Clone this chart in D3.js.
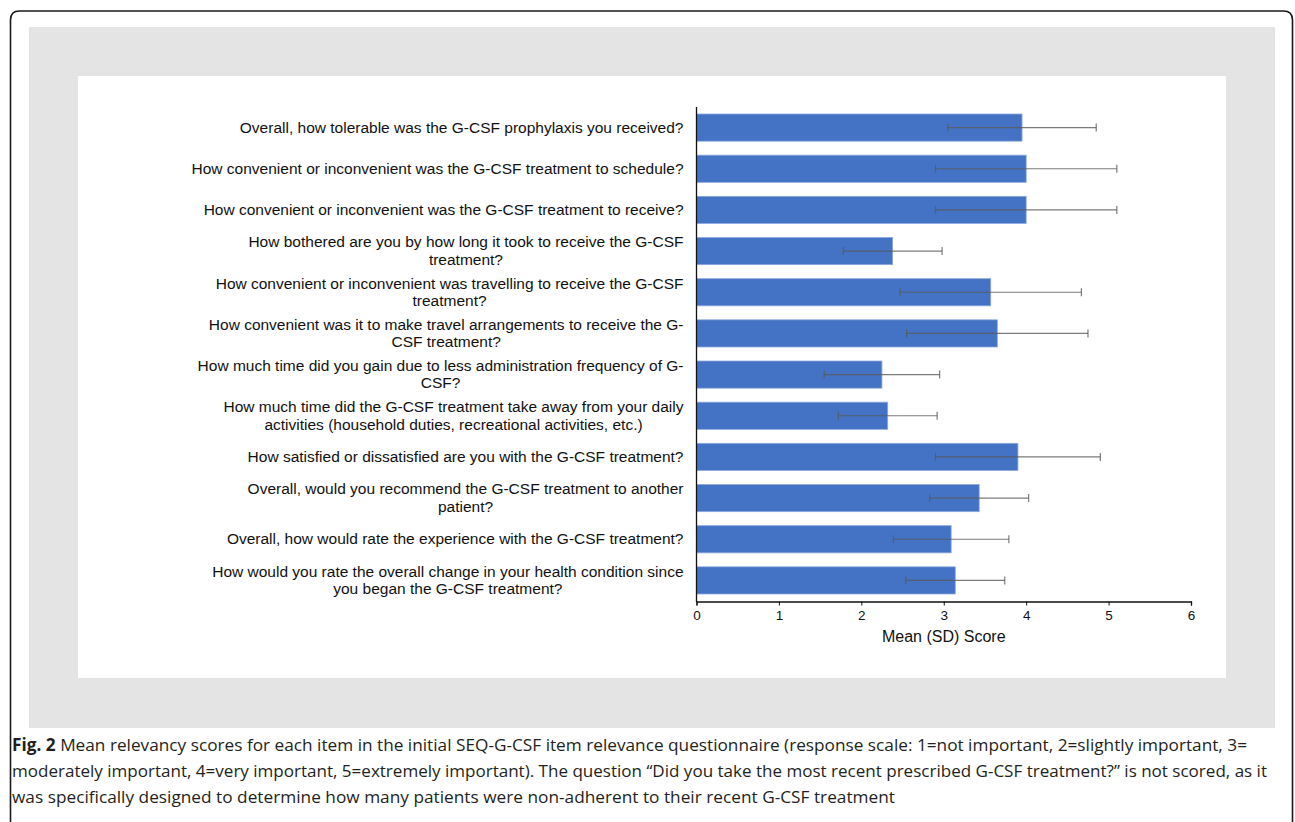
<!doctype html>
<html lang="en">
<head>
  <meta charset="utf-8">
  <title>Fig. 2</title>
  <style>
    body { margin: 0; background: #fff; }
    svg { display: block; }
    .lbl { font-family: "Liberation Sans", Arial, sans-serif; font-size: 15.5px; fill: #111; }
    .tick text { font-family: "Liberation Sans", Arial, sans-serif; font-size: 13.5px; fill: #111; }
    .cap { font-family: "Liberation Sans Narrow", "Open Sans", sans-serif; font-size: 17px; fill: #231f20; }
  </style>
</head>
<body>
  <div id="fig"></div>
  <script src="https://cdn.jsdelivr.net/npm/d3@7"></script>
  <script>
(function() {

  // items, top to bottom
  var items = [
    ["Overall, how tolerable was the G-CSF prophylaxis you received?"],
    ["How convenient or inconvenient was the G-CSF treatment to schedule?"],
    ["How convenient or inconvenient was the G-CSF treatment to receive?"],
    ["How bothered are you by how long it took to receive the G-CSF", "treatment?"],
    ["How convenient or inconvenient was travelling to receive the G-CSF", "treatment?"],
    ["How convenient was it to make travel arrangements to receive the G-", "CSF treatment?"],
    ["How much time did you gain due to less administration frequency of G-", "CSF?"],
    ["How much time did the G-CSF treatment take away from your daily", "activities (household duties, recreational activities, etc.)"],
    ["How satisfied or dissatisfied are you with the G-CSF treatment?"],
    ["Overall, would you recommend the G-CSF treatment to another", "patient?"],
    ["Overall, how would rate the experience with the G-CSF treatment?"],
    ["How would you rate the overall change in your health condition since", "you began the G-CSF treatment?"]
  ];
  var means = [3.95, 4.0, 4.0, 2.38, 3.57, 3.65, 2.25, 2.32, 3.90, 3.43, 3.09, 3.14];
  var sds   = [0.90, 1.10, 1.10, 0.60, 1.10, 1.10, 0.70, 0.60, 1.00, 0.60, 0.70, 0.60];
  var xTicks = [0, 1, 2, 3, 4, 5, 6];
  var xTitle = "Mean (SD) Score";
  var caption = [
    ["Fig. 2", " Mean relevancy scores for each item in the initial SEQ-G-CSF item relevance questionnaire (response scale: 1=not important, 2=slightly important, 3="],
    ["", "moderately important, 4=very important, 5=extremely important). The question \u201cDid you take the most recent prescribed G-CSF treatment?\u201d is not scored, as it"],
    ["", "was specifically designed to determine how many patients were non-adherent to their recent G-CSF treatment"]
  ];
  var captionWidths = [1235, 1255, 883];

  var width = 1295, height = 822;

  var svg = d3.select("#fig").append("svg")
      .attr("width", width)
      .attr("height", height);

  // frame with rounded top corners
  var r = 9;
  svg.append("path")
      .attr("d", "M10.5," + height + " V" + (11 + r) + " Q10.5,11 " + (10.5 + r) + ",11 H" + (1292.5 - r) +
                 " Q1292.5,11 1292.5," + (11 + r) + " V" + height)
      .attr("fill", "none")
      .attr("stroke", "#1a1a1a")
      .attr("stroke-width", 1.6);

  svg.append("rect").attr("x", 29).attr("y", 27).attr("width", 1246).attr("height", 701).attr("fill", "#e4e4e4");
  svg.append("rect").attr("x", 78).attr("y", 76).attr("width", 1148).attr("height", 602).attr("fill", "#fff");

  var x = d3.scaleLinear().domain([0, 6]).range([696.5, 1191]);
  var y = d3.scaleBand().domain(d3.range(items.length)).range([107, 601]).paddingInner(0.34).paddingOuter(0.17);

  var g = svg.append("g");

  g.selectAll("rect.bar")
    .data(means)
    .enter().append("rect")
      .attr("class", "bar")
      .attr("x", x(0))
      .attr("y", function(d, i) { return y(i); })
      .attr("width", function(d) { return x(d) - x(0); })
      .attr("height", y.bandwidth())
      .attr("fill", "#4472c4")
      .attr("stroke", "#8eaadf")
      .attr("stroke-width", 0.8);

  // error bars
  var eb = g.selectAll("g.err")
    .data(means)
    .enter().append("g")
      .attr("class", "err")
      .attr("stroke", "#5a5a5a")
      .attr("stroke-opacity", 0.8)
      .attr("stroke-width", 1.2)
      .attr("transform", function(d, i) { return "translate(0," + (y(i) + y.bandwidth() / 2) + ")"; });
  eb.append("line")
      .attr("x1", function(d, i) { return x(d - sds[i]); })
      .attr("x2", function(d, i) { return x(d + sds[i]); });
  eb.append("line")
      .attr("x1", function(d, i) { return x(d - sds[i]); })
      .attr("x2", function(d, i) { return x(d - sds[i]); })
      .attr("y1", -4).attr("y2", 4);
  eb.append("line")
      .attr("x1", function(d, i) { return x(d + sds[i]); })
      .attr("x2", function(d, i) { return x(d + sds[i]); })
      .attr("y1", -4).attr("y2", 4);

  // axes
  var xAxis = g.append("g")
      .attr("transform", "translate(0,601.5)")
      .call(d3.axisBottom(x).tickValues(xTicks).tickSize(4).tickPadding(5).tickFormat(d3.format("d")));
  xAxis.select(".domain").attr("stroke", "#111").attr("stroke-width", 1.3);
  xAxis.selectAll(".tick line").attr("stroke", "#111");

  g.append("line")
      .attr("x1", 696.5).attr("x2", 696.5)
      .attr("y1", 107).attr("y2", 602)
      .attr("stroke", "#111").attr("stroke-width", 1.3);

  g.append("text")
      .attr("class", "lbl")
      .attr("x", (x(0) + x(6)) / 2)
      .attr("y", 642)
      .attr("text-anchor", "middle")
      .style("font-size", "16px")
      .text(xTitle);

  // category labels: block right-aligned, lines centred inside it
  var rightEdge = 683.5, lineH = 17.5;
  items.forEach(function(lines, i) {
    var t = g.append("text").attr("class", "lbl").attr("text-anchor", "middle");
    var spans = lines.map(function(s) { return t.append("tspan").text(s); });
    var w = d3.max(spans, function(s) { return s.node().getComputedTextLength(); });
    var cy = y(i) + y.bandwidth() / 2;
    spans.forEach(function(s, k) {
      s.attr("x", rightEdge - w / 2)
       .attr("y", cy + (k - (lines.length - 1) / 2) * lineH + 5);
    });
  });

  // caption
  caption.forEach(function(c, i) {
    var t = svg.append("text")
        .attr("class", "cap")
        .attr("x", 12)
        .attr("y", 751 + i * 26)
        .attr("textLength", captionWidths[i])
        .attr("lengthAdjust", "spacingAndGlyphs");
    if (c[0]) t.append("tspan").attr("font-weight", "bold").text(c[0]);
    t.append("tspan").text(c[1]);
  });

})();
  </script>
</body>
</html>
